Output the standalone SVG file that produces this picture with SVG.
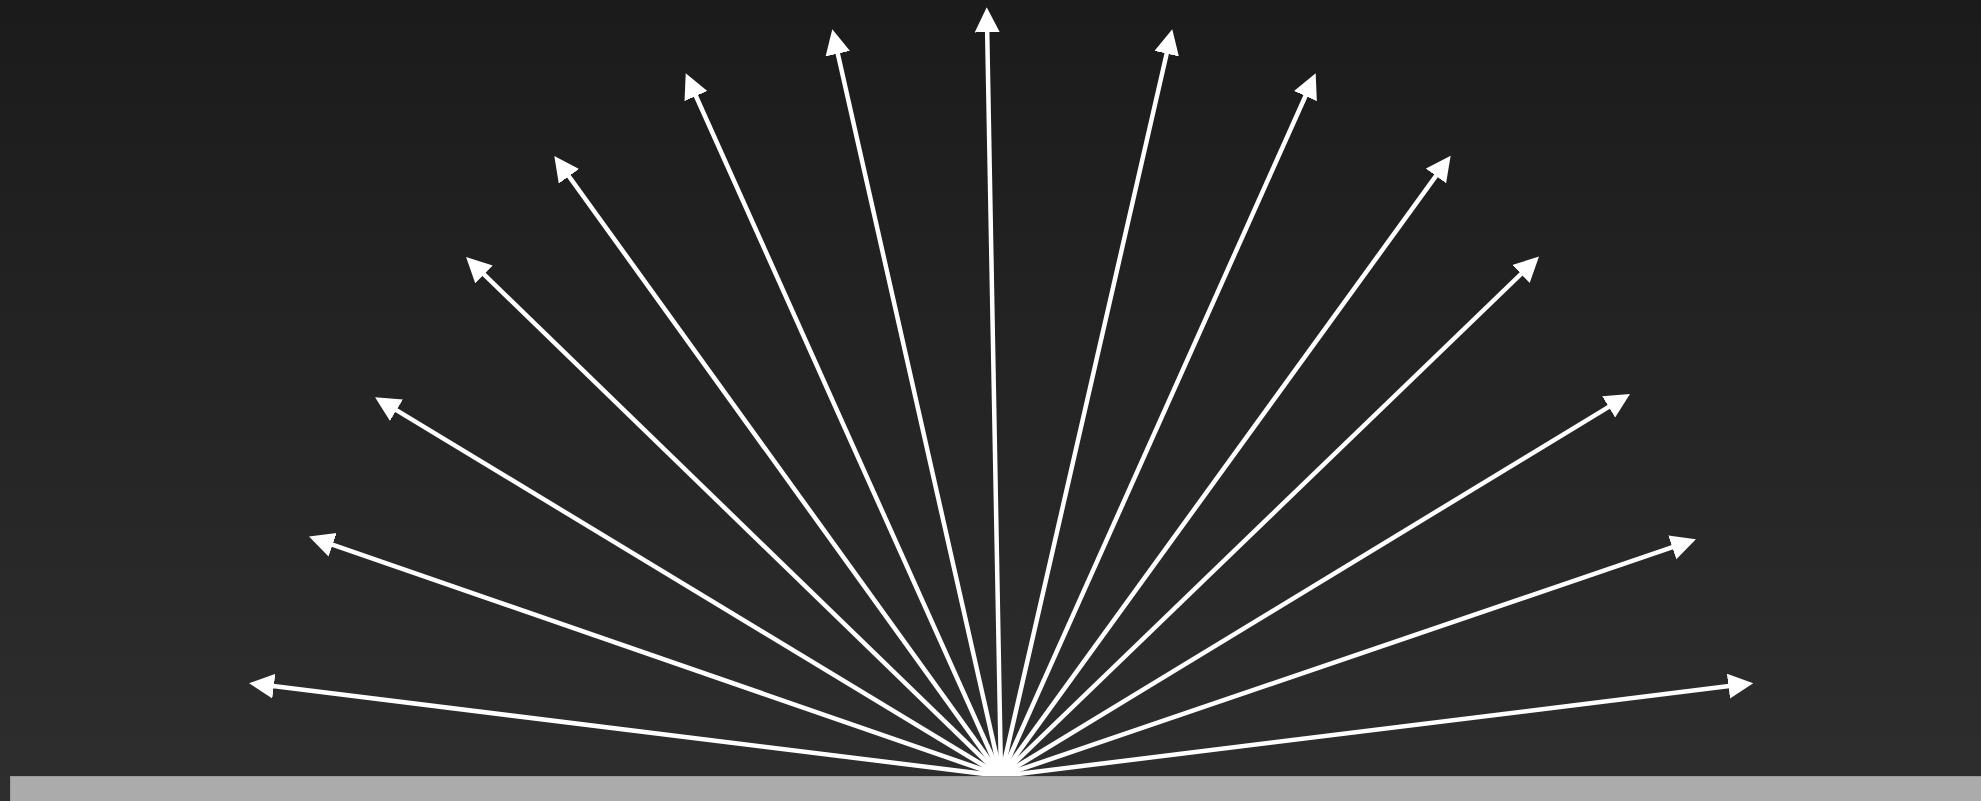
<svg xmlns="http://www.w3.org/2000/svg" width="1981" height="801" viewBox="0 0 1981 801">
  <style>
    .ray { stroke: #ffffff; stroke-width: 4.5; fill: none; marker-end: url(#head); }
    .ground { fill: #ababab; stroke: #9a9a9a; stroke-width: 1; }
  </style>
  <defs>
    <linearGradient id="bg" x1="0" y1="0" x2="0" y2="1">
      <stop offset="0" stop-color="#1b1b1b"/>
      <stop offset="1" stop-color="#2e2e2e"/>
    </linearGradient>
    <marker id="head" markerUnits="userSpaceOnUse" markerWidth="26" markerHeight="26" refX="5" refY="12.5" orient="auto" viewBox="0 0 26 26">
      <path d="M0,0 L25,12.5 L0,25 Z" fill="#ffffff"/>
    </marker>
  </defs>
  <rect x="0" y="0" width="1981" height="801" fill="url(#bg)"/>
  <g id="connectors">
    <line class="ray" x1="1001" y1="776" x2="268.9" y2="685.6"/>
    <line class="ray" x1="1001" y1="776" x2="327.9" y2="543.1"/>
    <line class="ray" x1="1001" y1="776" x2="392.2" y2="407.6"/>
    <line class="ray" x1="1001" y1="776" x2="480.4" y2="270.9"/>
    <line class="ray" x1="1001" y1="776" x2="566.0" y2="172.2"/>
    <line class="ray" x1="1001" y1="776" x2="693.9" y2="91.5"/>
    <line class="ray" x1="1001" y1="776" x2="836.7" y2="48.8"/>
    <line class="ray" x1="1001" y1="776" x2="987.1" y2="27.3"/>
    <line class="ray" x1="1001" y1="776" x2="1167.8" y2="48.8"/>
    <line class="ray" x1="1001" y1="776" x2="1307.5" y2="91.5"/>
    <line class="ray" x1="1001" y1="776" x2="1438.9" y2="171.9"/>
    <line class="ray" x1="1001" y1="776" x2="1524.6" y2="270.5"/>
    <line class="ray" x1="1001" y1="776" x2="1612.9" y2="404.3"/>
    <line class="ray" x1="1001" y1="776" x2="1677.0" y2="545.7"/>
    <line class="ray" x1="1001" y1="776" x2="1733.4" y2="685.6"/>
  </g>
  <g id="ground">
    <rect class="ground" x="10.5" y="776.5" width="1975" height="30"/>
  </g>
</svg>
